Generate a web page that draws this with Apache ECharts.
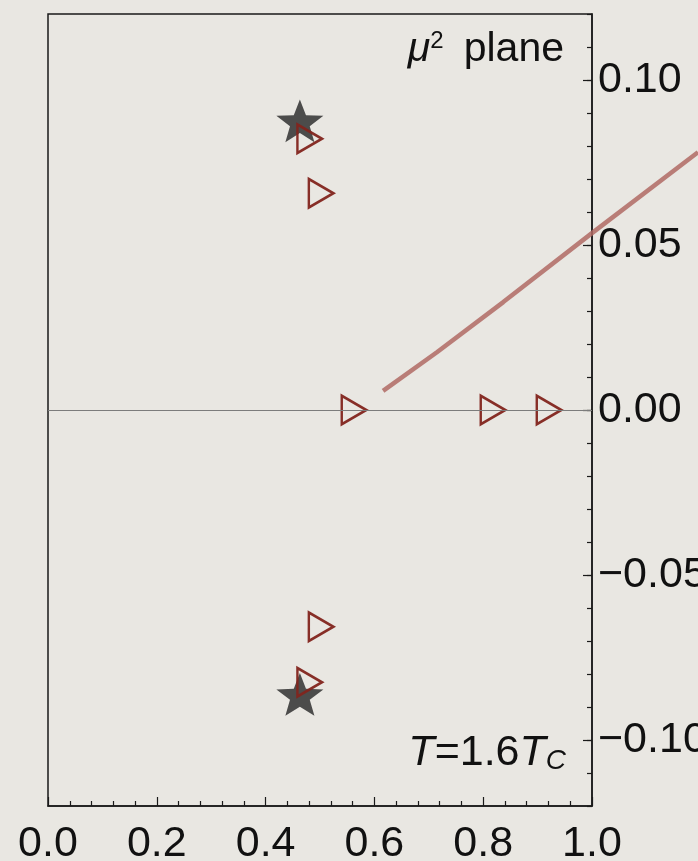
<!DOCTYPE html>
<html>
<head>
<meta charset="utf-8">
<script src="https://cdn.jsdelivr.net/npm/echarts@6/dist/echarts.min.js"></script>
<style>
  html, body { margin: 0; padding: 0; background: #E9E7E2; }
  #chart { width: 698px; height: 861px; }
</style>
</head>
<body>
<div id="chart"></div>
<script>
// Axis ticks
const xTickValues = [0, 0.2, 0.4, 0.6, 0.8, 1.0];
const xTickLabels = ['0.0', '0.2', '0.4', '0.6', '0.8', '1.0'];
const yTickValues = [-0.10, -0.05, 0, 0.05, 0.10];
const yTickLabels = ['\u22120.10', '\u22120.05', '0.00', '0.05', '0.10'];

// Zeros (stars)
const starX = [0.463, 0.463];
const starY = [0.0876, -0.0862];

// Poles (open right-pointing triangles)
const triX = [0.481, 0.502, 0.5625, 0.818, 0.921, 0.502, 0.481];
const triY = [0.0822, 0.0657, 0, 0, 0, -0.0657, -0.0825];

// Branch cut line (runs on past the frame to the page edge)
const cutX = [0.616, 0.715, 0.837, 1.0, 1.195];
const cutY = [0.0058, 0.0175, 0.0327, 0.0536, 0.0781];
const cutXMax = 1.195;

const zip = (xs, ys) => xs.map((x, i) => [x, ys[i]]);

const STAR = 'path://M50 0 L62.34 33.01 L97.55 34.55 L69.97 56.49 L79.39 90.45 L50 71 L20.61 90.45 L30.03 56.49 L2.45 34.55 L37.66 33.01 Z';
const TRI = 'path://M0 0 L27 15.5 L0 31 Z';

const axisColor = '#1a1a1a';
const textColor = '#111';
const fontFam = '"Liberation Sans", Arial, Helvetica, sans-serif';

const chart = echarts.init(document.getElementById('chart'), null, { renderer: 'canvas' });

chart.setOption({
  animation: false,
  backgroundColor: '#E9E7E2',
  grid: [
    {
      left: 48, right: 106, top: 14, bottom: 55,
      containLabel: false, outerBoundsMode: 'none',
      show: true, borderColor: axisColor, borderWidth: 1.5,
      backgroundColor: 'transparent'
    },
    {
      // wider, invisible grid sharing the same scale, so the cut line can leave the frame
      left: 48, right: 0, top: 14, bottom: 55,
      containLabel: false, outerBoundsMode: 'none', show: false
    }
  ],
  xAxis: [
    {
      type: 'value', gridIndex: 0, min: 0, max: 1, interval: 0.2,
      axisLine: { show: true, onZero: false, lineStyle: { color: axisColor, width: 1.5 } },
      axisTick: { show: true, inside: true, length: 9, lineStyle: { color: axisColor, width: 1.2 } },
      minorTick: { show: true, splitNumber: 5, length: 5, lineStyle: { color: axisColor, width: 1.2 } },
      splitLine: { show: false },
      axisLabel: {
        margin: 17, color: textColor, fontSize: 43, fontFamily: fontFam,
        formatter: v => {
          const i = xTickValues.findIndex(t => Math.abs(t - v) < 1e-9);
          return i >= 0 ? xTickLabels[i] : '';
        }
      }
    },
    {
      type: 'value', gridIndex: 1, min: 0, max: cutXMax, show: false,
      splitLine: { show: false }
    }
  ],
  yAxis: [
    {
      // minor ticks every 0.01
      type: 'value', gridIndex: 0, position: 'right', min: -0.12, max: 0.12, interval: 0.01,
      axisLine: { show: true, onZero: false, lineStyle: { color: axisColor, width: 1.5 } },
      axisTick: { show: true, inside: true, length: 5, lineStyle: { color: axisColor, width: 1.2 } },
      axisLabel: { show: false },
      splitLine: { show: false }
    },
    {
      // labelled major ticks
      type: 'value', gridIndex: 0, position: 'right', min: -0.12, max: 0.12,
      axisLine: { show: false, onZero: false },
      axisTick: { show: true, inside: true, length: 9, customValues: yTickValues,
                  lineStyle: { color: axisColor, width: 1.2 } },
      axisLabel: {
        show: true, margin: 6, color: textColor, fontSize: 43, fontFamily: fontFam,
        customValues: yTickValues,
        formatter: v => {
          const i = yTickValues.findIndex(t => Math.abs(t - v) < 1e-9);
          return i >= 0 ? yTickLabels[i] : '';
        }
      },
      splitLine: { show: false }
    },
    {
      type: 'value', gridIndex: 1, min: -0.12, max: 0.12, show: false,
      splitLine: { show: false }
    }
  ],
  series: [
    {
      name: 'cut',
      type: 'line',
      xAxisIndex: 1, yAxisIndex: 2,
      data: zip(cutX, cutY),
      showSymbol: false,
      clip: false,
      smooth: false,
      lineStyle: { color: 'rgba(176,106,100,0.85)', width: 4.5 },
      z: 2
    },
    {
      name: 'zeros',
      type: 'scatter',
      data: zip(starX, starY),
      symbol: STAR,
      symbolKeepAspect: true,
      symbolSize: [47, 45],
      itemStyle: { color: 'rgba(48,48,48,0.85)', opacity: 1 },
      z: 3
    },
    {
      name: 'poles',
      type: 'scatter',
      data: zip(triX, triY),
      symbol: TRI,
      symbolSize: [24.5, 28.5],
      itemStyle: { color: 'rgba(0,0,0,0)', borderColor: 'rgba(130,36,28,0.95)', borderWidth: 2.6, opacity: 1 },
      markLine: {
        silent: true, symbol: 'none', label: { show: false },
        lineStyle: { color: '#7c7c7c', width: 1.2, type: 'solid' },
        data: [{ yAxis: 0 }]
      },
      z: 4
    }
  ],
  graphic: [
    {
      type: 'text', x: 564, y: 50,
      style: {
        text: '{mu|\u03bc}{sup|2}{n|plane}',
        align: 'right', verticalAlign: 'middle',
        rich: {
          mu: { fontSize: 41, fontStyle: 'italic', fontFamily: fontFam, fill: textColor, lineHeight: 42 },
          sup: { fontSize: 24, fontFamily: fontFam, fill: textColor, lineHeight: 12, verticalAlign: 'top' },
          n: { fontSize: 41, fontFamily: fontFam, fill: textColor, lineHeight: 42, padding: [0, 0, 0, 20] }
        }
      },
      z: 10
    },
    {
      type: 'text', x: 566, y: 753,
      style: {
        text: '{it|T}{n|=1.6}{it|T}{sub|C}',
        align: 'right', verticalAlign: 'middle',
        rich: {
          it: { fontSize: 43, fontStyle: 'italic', fontFamily: fontFam, fill: textColor, lineHeight: 44 },
          n: { fontSize: 43, fontFamily: fontFam, fill: textColor, lineHeight: 44 },
          sub: { fontSize: 28, fontStyle: 'italic', fontFamily: fontFam, fill: textColor, lineHeight: 16, verticalAlign: 'bottom' }
        }
      },
      z: 10
    }
  ]
});
</script>
</body>
</html>
